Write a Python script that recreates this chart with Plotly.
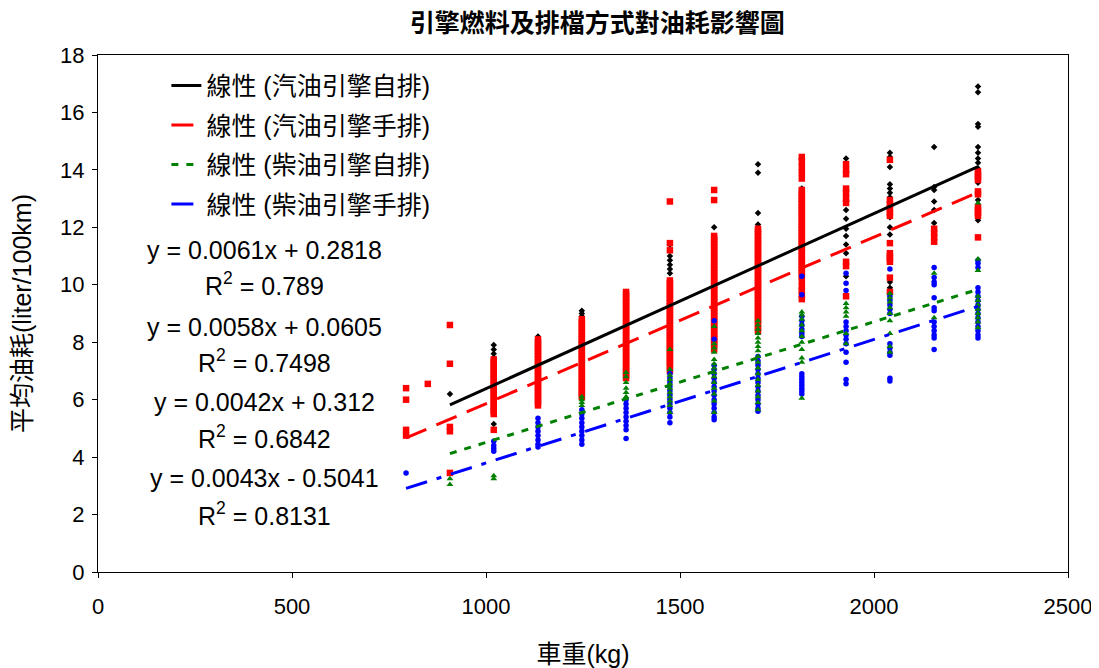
import plotly.graph_objects as go

# ---------------- data ----------------
weights = [794, 850, 907, 1020, 1134, 1247, 1361, 1474, 1588, 1701, 1814, 1928, 2041, 2155, 2268]

gas_auto = {
    907: [6.2],
    1020: [7.9, 7.75, 7.6, 7.45, 7.2, 6.8, 6.4, 5.15],
    1134: [8.2, 8.1, 7.9, 7.5, 7.2, 6.9],
    1247: [9.1, 9.0, 8.9, 8.3, 8.0, 7.6],
    1361: [9.75, 9.6, 9.5, 9.3, 8.8, 8.3],
    1474: [11.4, 11.0, 10.85, 10.7, 10.55, 10.4, 9.6, 9.0],
    1588: [12.0, 11.6, 10.8, 10.2, 9.5],
    1701: [14.2, 13.9, 12.5, 12.1, 11.5, 11.0, 10.5, 10.2, 9.9],
    1814: [14.4, 14.2, 13.9, 13.35, 13.1, 12.9, 12.7, 12.5, 11.9, 11.2, 10.6],
    1928: [14.4, 13.1, 12.9, 12.6, 12.3, 11.95, 11.7, 11.4, 11.1, 10.8, 10.3],
    2041: [14.6, 14.45, 14.1, 13.5, 13.35, 13.2, 13.05, 12.9, 12.75, 12.35, 12.0, 11.75, 10.1, 9.9],
    2155: [14.8, 13.4, 13.3, 12.9, 12.6, 12.15],
    2268: [16.9, 16.7, 15.6, 15.5, 14.8, 14.6, 14.4, 14.25, 14.05, 13.55, 12.95, 12.25],
}

gas_manual = {
    794: [6.4, 6.0, 4.95, 4.75],
    850: [6.55],
    907: [8.6, 7.25, 5.05, 4.9, 3.45],
    1020: [7.4, 7.3, 7.2, 7.1, 7.0, 6.9, 6.8, 6.7, 6.6, 6.5, 6.4, 6.3, 6.2, 6.1, 6.0,
           5.9, 5.8, 5.7, 5.6, 5.5, 4.95],
    1134: [8.1, 8.0, 7.9, 7.8, 7.7, 7.6, 7.5, 7.4, 7.3, 7.2, 7.1, 7.0, 6.9, 6.8, 6.7,
           6.6, 6.5, 6.4, 6.3, 6.2, 6.1, 6.0, 5.9, 5.8],
    1247: [8.8, 8.7, 8.6, 8.5, 8.4, 8.3, 8.2, 8.1, 8.0, 7.9, 7.8, 7.7, 7.6, 7.5, 7.4,
           7.3, 7.2, 7.1, 7.0, 6.9, 6.8, 6.7, 6.6, 6.5, 6.4, 6.3, 6.2, 6.1],
    1361: [9.75, 9.65, 9.55, 9.45, 9.35, 9.25, 9.15, 9.05, 8.95, 8.85, 8.75, 8.65, 8.55,
           8.45, 8.35, 8.25, 8.15, 8.05, 7.95, 7.85, 7.75, 7.65, 7.55, 7.45, 7.35, 7.25,
           7.15, 7.05, 6.95, 6.85, 6.75],
    1474: [12.9, 11.45, 11.2, 10.15, 10.05, 9.95, 9.85, 9.75, 9.65, 9.55, 9.45, 9.35,
           9.25, 9.15, 9.05, 8.95, 8.85, 8.75, 8.65, 8.55, 8.45, 8.35, 8.25, 8.15, 8.05,
           7.95, 7.85, 7.75, 7.65, 7.55, 7.45, 7.35, 7.25, 7.15, 7.0],
    1588: [13.3, 12.95, 11.7, 11.6, 11.5, 11.4, 11.3, 11.2, 11.1, 11.0, 10.9, 10.8, 10.7,
           10.6, 10.5, 10.4, 10.3, 10.2, 10.1, 10.0, 9.9, 9.8, 9.7, 9.6, 9.5, 9.4, 9.3,
           9.2, 9.1, 9.0, 8.9, 8.8, 8.7, 8.6, 8.5, 8.4, 8.3, 8.2, 8.1, 8.0, 7.9, 7.75],
    1701: [11.95, 11.85, 11.75, 11.65, 11.55, 11.45, 11.35, 11.25, 11.15, 11.05, 10.95,
           10.85, 10.75, 10.65, 10.55, 10.45, 10.35, 10.25, 10.15, 10.05, 9.95, 9.85,
           9.75, 9.65, 9.55, 9.45, 9.35, 9.25, 9.15, 9.05, 8.95, 8.85, 8.75, 8.65, 8.5, 8.4],
    1814: [14.45, 14.3, 14.1, 13.9, 13.7, 13.3, 13.2, 13.1, 13.0, 12.9, 12.8, 12.7, 12.6,
           12.5, 12.4, 12.3, 12.2, 12.1, 12.0, 11.9, 11.8, 11.7, 11.6, 11.5, 11.4, 11.3,
           11.2, 11.1, 11.0, 10.9, 10.8, 10.7, 10.6, 10.5, 10.4, 10.3, 10.15, 9.95, 9.8, 9.65, 9.5],
    1928: [14.2, 14.0, 13.85, 13.35, 13.2, 13.0, 12.85, 10.8, 10.65, 9.6],
    2041: [14.35, 12.95, 12.8, 12.65, 12.5, 12.4, 11.45, 11.1, 11.0, 10.9, 10.8, 10.25, 9.75],
    2155: [11.95, 11.8, 11.65, 11.5],
    2268: [13.95, 13.85, 13.75, 13.65, 13.25, 13.15, 12.7, 12.6, 12.5, 12.4, 11.65],
}

diesel_auto = {
    907: [3.25, 3.05],
    1020: [3.35, 3.25],
    1247: [6.1, 6.0, 5.9, 5.8],
    1361: [6.95, 6.8, 6.6, 6.4, 6.25, 6.1],
    1474: [7.75, 7.05, 6.85, 6.7, 6.55, 6.4, 6.25, 6.1, 5.95, 5.8, 5.55],
    1588: [8.55, 7.95, 7.8, 7.65, 7.4, 7.25, 7.1, 6.95, 6.8, 6.6, 6.4, 6.2, 5.95, 5.55],
    1701: [8.75, 8.6, 8.45, 8.3, 8.15, 8.0, 7.85, 7.7, 7.5, 7.3, 7.1, 6.9, 6.7, 6.5,
           6.3, 6.1, 5.9, 5.65],
    1814: [9.05, 8.95, 8.8, 8.6, 8.4, 8.2, 8.0, 7.75, 7.45, 7.3, 6.05],
    1928: [9.35, 9.2, 9.05, 8.9, 8.3, 7.95],
    2041: [9.7, 9.55, 9.4, 9.2, 9.0, 8.75, 8.3, 7.85, 7.65],
    2155: [10.4, 8.85],
    2268: [12.85, 10.9, 10.5, 9.6, 9.45, 9.3, 9.15, 9.0, 8.85, 8.7, 8.5],
}

diesel_manual = {
    794: [3.45],
    1020: [4.55, 4.4, 4.3, 4.2],
    1134: [5.35, 5.2, 5.05, 4.9, 4.75, 4.6, 4.45, 4.35],
    1247: [5.65, 5.5, 5.35, 5.2, 5.05, 4.9, 4.75, 4.6, 4.45],
    1361: [6.0, 5.85, 5.7, 5.55, 5.4, 5.25, 5.1, 4.95, 4.65],
    1474: [6.9, 6.75, 6.6, 6.45, 6.3, 6.15, 6.0, 5.85, 5.7, 5.55, 5.4, 5.2],
    1588: [8.75, 8.1, 7.2, 7.05, 6.9, 6.75, 6.6, 6.45, 6.3, 6.15, 6.0, 5.85, 5.7, 5.55, 5.4, 5.3],
    1701: [7.5, 7.35, 7.2, 7.05, 6.9, 6.75, 6.6, 6.45, 6.3, 6.15, 6.0, 5.85, 5.7, 5.6],
    1814: [10.3, 9.65, 8.9, 8.75, 8.6, 8.45, 8.3, 8.2, 6.9, 6.8, 6.7, 6.6, 6.5, 6.4, 6.3, 6.2],
    1928: [10.4, 10.05, 9.8, 8.7, 8.55, 8.4, 8.25, 8.1, 7.95, 7.65, 7.3, 6.7, 6.55],
    2041: [10.55, 9.6, 9.45, 9.3, 9.15, 9.0, 7.95, 7.8, 7.65, 7.55, 6.75, 6.65],
    2155: [10.6, 10.25, 10.1, 10.0, 9.55, 9.2, 9.1, 8.7, 8.55, 8.4, 8.25, 8.15, 7.75],
    2268: [10.85, 10.75, 10.6, 9.9, 9.75, 9.6, 9.45, 9.3, 9.15, 9.0, 8.85, 8.7, 8.55,
           8.4, 8.25, 8.15],
}

series_names = ["汽油引擎自排", "汽油引擎手排", "柴油引擎自排", "柴油引擎手排"]
slopes = [0.0061, 0.0058, 0.0042, 0.0043]
intercepts = [0.2818, 0.0605, 0.312, -0.5041]
r_squared = [0.789, 0.7498, 0.6842, 0.8131]

title_text = "引擎燃料及排檔方式對油耗影響圖"
x_title = "車重(kg)"
y_title = "平均油耗(liter/100km)"

# ---------------- styles ----------------
colors = ["#000000", "#FF0000", "#008000", "#0000FF"]
symbols = ["diamond", "square", "triangle-up", "circle"]
msizes = [5, 6.5, 6, 5.5]
dashes = ["solid", "22px,11px", "7px,8px", "22px,10px,5px,10px"]
FONT = "Liberation Sans, Arial, Noto Sans CJK TC, sans-serif"

data_sets = [gas_auto, gas_manual, diesel_auto, diesel_manual]

fig = go.Figure()

# scatter markers (drawing order: black, red, blue, green)
for i in [0, 1, 3, 2]:
    ds = data_sets[i]
    xs, ys = [], []
    for w, vals in ds.items():
        xs += [w] * len(vals)
        ys += vals
    fig.add_trace(go.Scatter(
        x=xs, y=ys, mode="markers", showlegend=False, hoverinfo="x+y",
        marker=dict(symbol=symbols[i], size=msizes[i], color=colors[i], line=dict(width=0)),
    ))

# trend lines
for i in range(4):
    ds = data_sets[i]
    xmin, xmax = min(ds.keys()), max(ds.keys())
    lx = [xmin, xmax]
    ly = [slopes[i] * x + intercepts[i] for x in lx]
    fig.add_trace(go.Scatter(
        x=lx, y=ly, mode="lines", name=f"線性 ({series_names[i]})",
        legendgroup=f"g{i}",
        line=dict(color=colors[i], width=3, dash=dashes[i]),
    ))

# equation annotations
eq_y = [[11.21, 10.03], [8.53, 7.35], [5.92, 4.70], [3.27, 2.02]]
for i in range(4):
    b = intercepts[i]
    sign = "+" if b >= 0 else "-"
    fig.add_annotation(x=430, y=eq_y[i][0], xref="x", yref="y",
                       text=f"y = {slopes[i]}x {sign} {abs(b)}", showarrow=False,
                       font=dict(size=25, color="black", family=FONT))
    fig.add_annotation(x=430, y=eq_y[i][1], xref="x", yref="y",
                       text=f"R<sup>2</sup> = {r_squared[i]}", showarrow=False,
                       font=dict(size=25, color="black", family=FONT))

# page body has an 8px margin, so the figure is a bit smaller than the window
fig.update_layout(
    width=1091, height=660,
    margin=dict(l=90, r=31, t=47, b=96, autoexpand=False),
    paper_bgcolor="white", plot_bgcolor="white",
    font=dict(family=FONT, size=22, color="black"),
    title=dict(text=title_text, x=0.54, xanchor="center", y=0.977, yanchor="middle",
               xref="container", yref="container", automargin=False,
               font=dict(size=25, family="Noto Sans CJK TC", color="black", weight="bold")),
    legend=dict(x=0.0705, y=0.985, xanchor="left", yanchor="top",
                bgcolor="rgba(0,0,0,0)", font=dict(size=25, family=FONT),
                traceorder="grouped", tracegroupgap=4),
    showlegend=True,
)
fig.update_xaxes(range=[0, 2500], dtick=500, showgrid=False, zeroline=False, automargin=False,
                 showline=True, linecolor="black", linewidth=1, mirror=True,
                 ticks="outside", ticklen=5, tickcolor="black", ticklabelstandoff=10,
                 tickfont=dict(size=22), title=dict(text=x_title, font=dict(size=25), standoff=33))
fig.update_yaxes(range=[0, 18], dtick=2, showgrid=False, zeroline=False, automargin=False,
                 showline=True, linecolor="black", linewidth=1, mirror=True,
                 ticks="outside", ticklen=5, tickcolor="black", ticklabelstandoff=3,
                 tickfont=dict(size=22), title=dict(text=y_title, font=dict(size=25), standoff=24))

fig.write_html("out.html")
